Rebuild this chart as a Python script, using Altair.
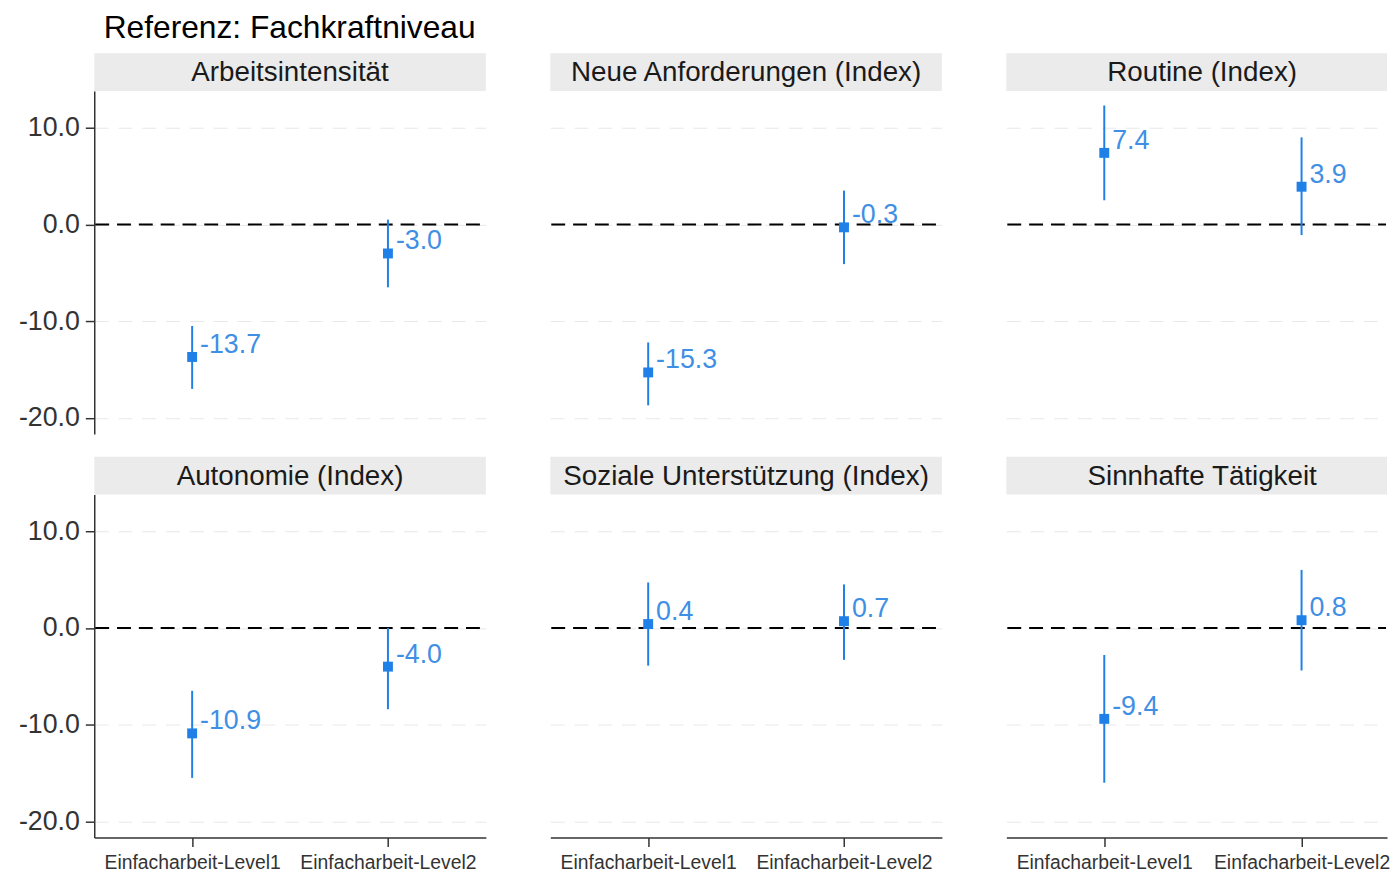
import altair as alt
import pandas as pd

# ---- data ----
panels = [
    "Arbeitsintensität",
    "Neue Anforderungen (Index)",
    "Routine (Index)",
    "Autonomie (Index)",
    "Soziale Unterstützung (Index)",
    "Sinnhafte Tätigkeit",
]
levels = ["Einfacharbeit-Level1", "Einfacharbeit-Level2"]
est_l1 = [-13.7, -15.3, 7.4, -10.9, 0.4, -9.4]
est_l2 = [-3.0, -0.3, 3.9, -4.0, 0.7, 0.8]
lo_l1 = [-17.0, -18.7, 2.5, -15.5, -3.9, -16.0]
hi_l1 = [-10.5, -12.2, 12.3, -6.5, 4.7, -2.8]
lo_l2 = [-6.5, -4.1, -1.1, -8.4, -3.3, -4.4]
hi_l2 = [0.5, 3.5, 9.0, 0.0, 4.5, 6.0]
y_ticks = [-20, -10, 0, 10]

FONT = "Liberation Sans"
W = 395
W_LAST = 384
H = 346
HEAD = 38
YDOM = [-21.67, 13.79]
BLUE = "#1f80e8"
TXT_BLUE = "#3f8fe4"
AX = "#333333"
GRID = "#e8e8e8"


def make_panel(i, row, col):
    w = W_LAST if col == 2 else W
    df = pd.DataFrame({
        "level": levels,
        "est": [est_l1[i], est_l2[i]],
        "lo": [lo_l1[i], lo_l2[i]],
        "hi": [hi_l1[i], hi_l2[i]],
    })
    if row == 1:
        xaxis = alt.Axis(title=None, labelFont=FONT, labelFontSize=19.5, labelColor=AX,
                         labelAngle=0, tickColor=AX, tickSize=9, tickWidth=1.5,
                         domainColor=AX, domainWidth=1.5, grid=False, labelPadding=7)
    else:
        xaxis = None
    if col == 2:
        xscale = alt.Scale(type="point", domain=levels, padding=0.4648, align=0.534)
    else:
        xscale = alt.Scale(type="point", domain=levels, padding=0.5)
    x = alt.X("level:N", scale=xscale, axis=xaxis)
    if col == 0:
        yaxis = alt.Axis(title=None, values=y_ticks,
                         labelExpr="(datum.value < 0 ? '-' : '') + format(abs(datum.value), '.1f')",
                         labelFont=FONT, labelFontSize=27, labelColor=AX, labelPadding=6,
                         tickColor=AX, tickSize=9, tickWidth=1.5, domainColor=AX, domainWidth=1.5,
                         grid=True, gridColor=GRID, gridDash=[14, 10], gridWidth=1)
    else:
        yaxis = alt.Axis(title=None, values=y_ticks, labels=False, ticks=False, domain=False,
                         grid=True, gridColor=GRID, gridDash=[14, 10], gridWidth=1)
    yscale = alt.Scale(domain=YDOM, nice=False, zero=False)

    base = alt.Chart(df)
    bars = base.mark_rule(color=BLUE, strokeWidth=2).encode(
        x=x, y=alt.Y("lo:Q", scale=yscale, axis=yaxis), y2="hi:Q")
    zero = alt.Chart(pd.DataFrame({"z": [0]})).mark_rule(
        color="black", strokeWidth=2, strokeDash=[14, 8]).encode(
        y=alt.Y("z:Q", scale=yscale), x=alt.value(1), x2=alt.value(w - 1))
    pts = base.mark_square(color=BLUE, size=100, opacity=1).encode(
        x=x, y=alt.Y("est:Q", scale=yscale))
    labels = base.transform_calculate(
        lab="(datum.est < 0 ? '-' : '') + format(abs(datum.est), '.1f')"
    ).mark_text(align="left", baseline="alphabetic", dx=8, dy=-4, font=FONT, fontSize=27,
                color=TXT_BLUE).encode(x=x, y=alt.Y("est:Q", scale=yscale), text="lab:N")
    hdr_df = pd.DataFrame({"t": [panels[i]]})
    head_rect = alt.Chart(hdr_df).mark_rect(color="#ebebeb").encode(
        x=alt.value(0), x2=alt.value(w), y=alt.value(-HEAD), y2=alt.value(0))
    head_text = alt.Chart(hdr_df).mark_text(font=FONT, fontSize=28, color="#1a1a1a",
                                             baseline="alphabetic", align="center").encode(
        x=alt.value(W / 2), y=alt.value(-10), text="t:N")
    return alt.layer(head_rect, head_text, zero, bars, pts, labels).properties(width=w, height=H)


rows = []
for r in range(2):
    rows.append(alt.hconcat(*[make_panel(r * 3 + c, r, c) for c in range(3)], spacing=65))

chart = alt.vconcat(*rows, spacing=23).properties(
    title=alt.TitleParams("Referenz: Fachkraftniveau", anchor="start", font=FONT, fontSize=32,
                          fontWeight="normal", color="black", dx=86, dy=-2, offset=7),
    padding={"left": 10, "top": 0, "right": 0, "bottom": 0},
).configure(background="white").configure_view(strokeWidth=0, stroke="transparent")

chart.save("out.html", embed_options={"renderer": "svg", "actions": False})
